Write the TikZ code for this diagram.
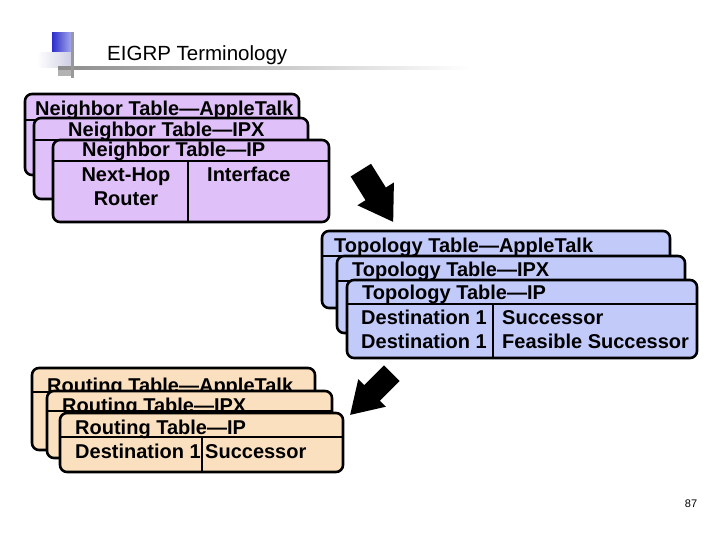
\documentclass[tikz,border=0pt]{standalone}
\usepackage{fontspec}
\setmainfont{Liberation Sans}
\usetikzlibrary{calc}
\definecolor{nbfill}{RGB}{224,192,248}
\definecolor{tpfill}{RGB}{194,202,250}
\definecolor{rtfill}{RGB}{250,224,190}
\definecolor{logoblue}{RGB}{45,45,205}
\definecolor{logolight}{RGB}{175,180,235}
\definecolor{logopale}{RGB}{205,205,228}
\begin{document}
\begin{tikzpicture}[x=1pt,y=-1pt,
  tbl/.style={draw=black, line width=2.6pt, rounded corners=7pt, inner sep=0pt, outer sep=0pt, anchor=north west},
  tt/.style={font=\bfseries\fontsize{20}{22}\selectfont, inner sep=0pt, anchor=base west},
  ttc/.style={tt, anchor=base},
  sepline/.style={line width=2.2pt},
  blockarrow/.style={fill=black}]
\useasboundingbox[fill=white] (0,0) rectangle (720,540);

% logo
\shade[left color=logoblue, right color=logolight] (52,33) rectangle (73,53);
\shade[left color=white, right color=logopale] (37,53) rectangle (72,68);
\fill[black!30] (58,69) rectangle (73,76);
\shade[left color=black!45, right color=white] (58,66.5) rectangle (470,69.5);
\draw[line width=3pt, black!40] (72,32) -- (72,78);
\node[anchor=base west, inner sep=0pt, font=\fontsize{20.5}{23}\selectfont] (title) at (107,61) {EIGRP Terminology};

% Neighbor tables
\node[tbl, fill=nbfill, minimum width=274pt, minimum height=81pt] (nA) at (25,94) {};
\draw[sepline] ($(nA.north west)+(0,26)$) -- ($(nA.north east)+(0,26)$);
\node[tt] (nAt) at (35,116) {Neighbor Table—AppleTalk};
\node[tbl, fill=nbfill, minimum width=274pt, minimum height=81pt] (nB) at (34,118) {};
\draw[sepline] ($(nB.north west)+(0,22)$) -- ($(nB.north east)+(0,22)$);
\node[tt] (nBt) at (68,137) {Neighbor Table—IPX};
\node[tbl, fill=nbfill, minimum width=276pt, minimum height=82pt] (nC) at (53,140) {};
\draw[sepline] ($(nC.north west)+(0,21)$) -- ($(nC.north east)+(0,21)$);
\draw[sepline] ($(nC.north west)+(135,21)$) -- ($(nC.south west)+(135,0)$);
\node[tt] (nCt) at (82,157) {Neighbor Table—IP};
\node[ttc] (nh) at (126,182) {Next-Hop};
\node[ttc] (rt) at (126,206) {Router};
\node[tt] (if) at (207,182) {Interface};

% Topology tables
\node[tbl, fill=tpfill, minimum width=348pt, minimum height=77pt] (tA) at (322,231) {};
\draw[sepline] ($(tA.north west)+(0,25)$) -- ($(tA.north east)+(0,25)$);
\node[tt] (tAt) at (334,252) {Topology Table—AppleTalk};
\node[tbl, fill=tpfill, minimum width=348pt, minimum height=77pt] (tB) at (337,256) {};
\draw[sepline] ($(tB.north west)+(0,25)$) -- ($(tB.north east)+(0,25)$);
\node[tt] (tBt) at (352,276) {Topology Table—IPX};
\node[tbl, fill=tpfill, minimum width=350pt, minimum height=78pt] (tC) at (347,280) {};
\draw[sepline] ($(tC.north west)+(0,24)$) -- ($(tC.north east)+(0,24)$);
\draw[sepline] ($(tC.north west)+(146,24)$) -- ($(tC.south west)+(146,0)$);
\node[tt] (tCt) at (362,299) {Topology Table—IP};
\node[tt] (td1) at (361,324) {Destination 1};
\node[tt] (ts1) at (502,324) {Successor};
\node[tt] (td2) at (361,348) {Destination 1};
\node[tt] (ts2) at (502,348) {Feasible Successor};

% Routing tables
\node[tbl, fill=rtfill, minimum width=283pt, minimum height=82pt] (rA) at (32,368) {};
\draw[sepline] ($(rA.north west)+(0,24)$) -- ($(rA.north east)+(0,24)$);
\node[tt] (rAt) at (47,392) {Routing Table—AppleTalk};
\node[tbl, fill=rtfill, minimum width=285pt, minimum height=67pt] (rB) at (47,391) {};
\draw[sepline] ($(rB.north west)+(0,20)$) -- ($(rB.north east)+(0,20)$);
\node[tt] (rBt) at (62,412) {Routing Table—IPX};
\node[tbl, fill=rtfill, minimum width=283pt, minimum height=59pt] (rC) at (60,413) {};
\draw[sepline] ($(rC.north west)+(0,24)$) -- ($(rC.north east)+(0,24)$);
\draw[sepline] ($(rC.north west)+(142,24)$) -- ($(rC.south west)+(142,0)$);
\node[tt] (rCt) at (75,434) {Routing Table—IP};
\node[tt] (rd1) at (75,458) {Destination 1};
\node[tt] (rs1) at (205,458) {Successor};

% block arrows
\fill[blockarrow, shift={(377,196)}, rotate=-58]
  (-30.5,-12) -- (-2.5,-12) -- (-2.5,-21.5) -- (30.5,0) -- (-2.5,21.5) -- (-2.5,12) -- (-30.5,12) -- cycle;
\fill[blockarrow, shift={(371,394)}, rotate=-135]
  (-29.5,-11) -- (-1.5,-11) -- (-1.5,-19.5) -- (29.5,0) -- (-1.5,19.5) -- (-1.5,11) -- (-29.5,11) -- cycle;

% page number
\node[anchor=base, inner sep=0pt, font=\fontsize{11}{13}\selectfont] (pg) at (691,507) {87};
\end{tikzpicture}
\end{document}
